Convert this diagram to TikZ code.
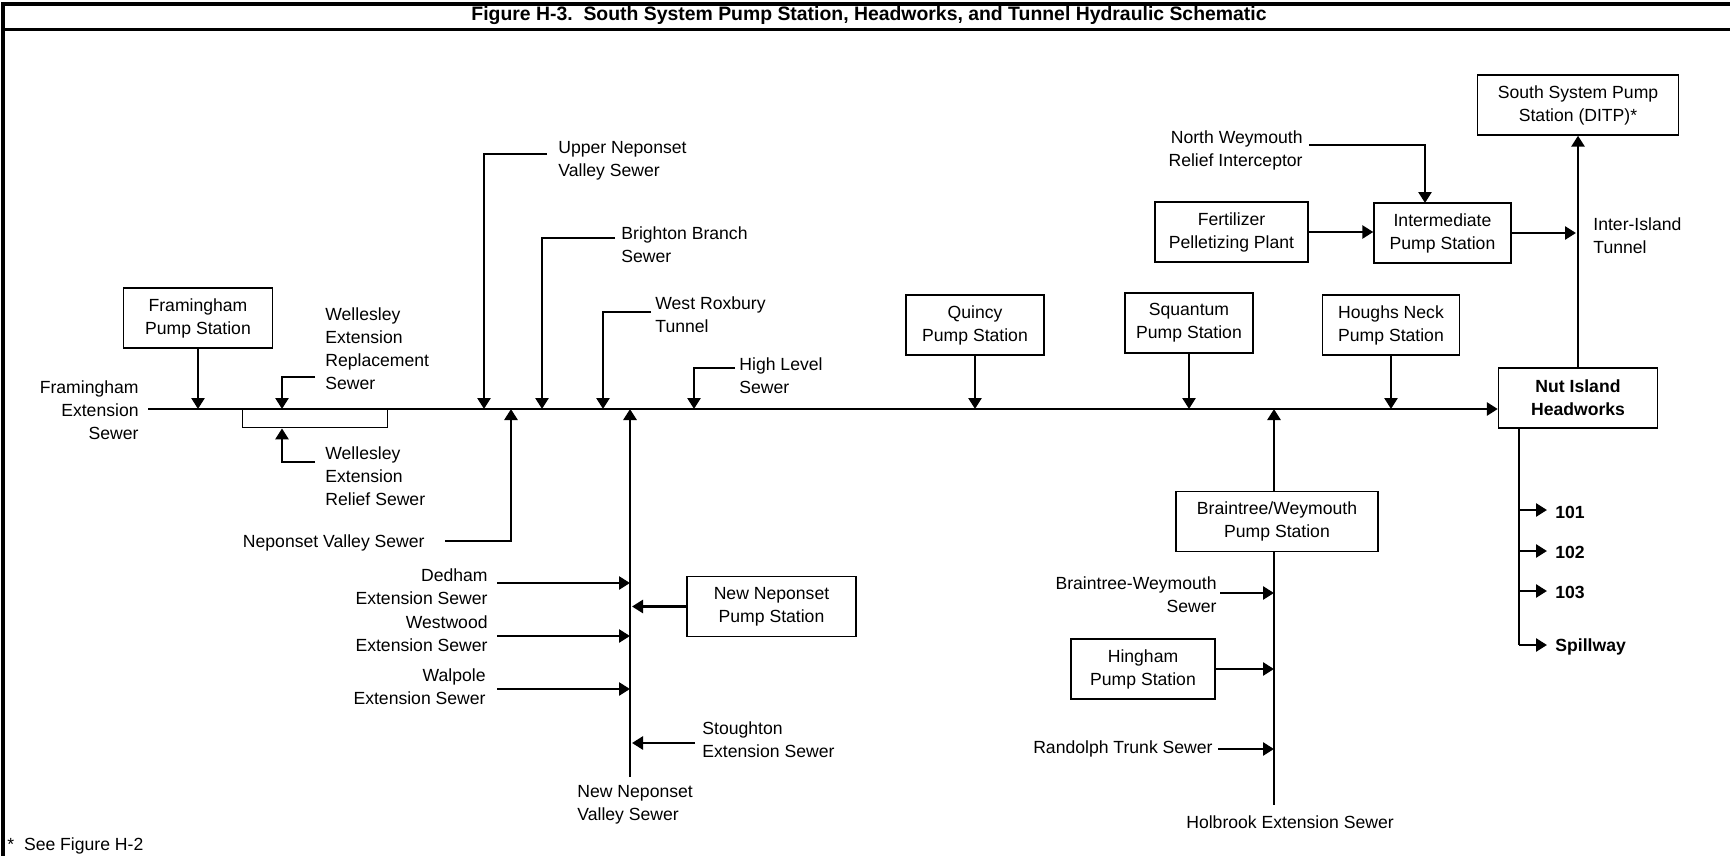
\documentclass[tikz,border=0pt]{standalone}
\usepackage{fontspec}
\setmainfont{Liberation Sans}
\usetikzlibrary{arrows.meta,positioning}

\begin{document}
\begin{tikzpicture}[x=0.5pt,y=-0.5pt,
    font=\fontsize{8.8}{11.5}\selectfont,
    stn/.style={draw,line width=0.7pt,align=center,minimum height=30pt,inner sep=0pt},
    lbl/.style={inner sep=0pt},
    arr/.style={-{Triangle[length=5.5pt,width=6.5pt]},line width=1.3pt},
    outlet/.style={line width=0.7pt}]
  \useasboundingbox (0,0) rectangle (1730,856);
  \draw[line width=1.6pt] (1730,4) -- (3,4) -- (3,856);
  \draw[line width=1.5pt] (3,30) -- (1730,30);
  \node[font=\bfseries\fontsize{9.7}{11}\selectfont] (title) at (869,16)
    {Figure H-3.\ \ South System Pump Station, Headworks, and Tunnel Hydraulic Schematic};

  % main sewer into the headworks
  \coordinate (m0) at (148,409);
  \node[stn,minimum width=79.5pt,font=\bfseries\fontsize{8.8}{11.5}\selectfont] (nut) at (1578,398) {Nut Island\\Headworks};
  \draw[arr,line width=1.4pt] (m0) -- (m0 -| nut.west);
  \node[lbl,anchor=east,align=right] (fes) at (139,410) {Framingham\\Extension\\Sewer};

  \node[stn,minimum width=74.5pt] (fram) at (198,318) {Framingham\\Pump Station};
  \draw[arr] (fram) -- (fram |- m0);

  \node[draw,line width=0.7pt,anchor=north west,minimum width=72.5pt,minimum height=9pt,inner sep=0pt] (wel) at (242,409) {};
  \coordinate (wr0) at (315,377);
  \coordinate (wr) at (282,409);
  \draw[arr] (wr0) -| (wr);
  \node[lbl,anchor=west,align=left] (wrs) at (325,349) {Wellesley\\Extension\\Replacement\\Sewer};
  \coordinate (wf0) at (315,462);
  \draw[arr] (wf0) -| (wr |- wel.south);
  \node[lbl,anchor=west,align=left] (wfs) at (325,476) {Wellesley\\Extension\\Relief Sewer};

  % sewers from above
  \coordinate (un0) at (547,154);
  \coordinate (un) at (484,409);
  \draw[arr] (un0) -| (un);
  \node[lbl,anchor=west,align=left] (uns) at (558,161) {Upper Neponset\\Valley Sewer};
  \coordinate (bb0) at (615,238);
  \coordinate (bb) at (542,409);
  \draw[arr] (bb0) -| (bb);
  \node[lbl,anchor=west,align=left] (bbs) at (621,245) {Brighton Branch\\Sewer};
  \coordinate (wx0) at (651,312);
  \coordinate (wx) at (603,409);
  \draw[arr] (wx0) -| (wx);
  \node[lbl,anchor=west,align=left] (wxt) at (655,315) {West Roxbury\\Tunnel};
  \coordinate (hl0) at (735,368);
  \coordinate (hl) at (694,409);
  \draw[arr] (hl0) -| (hl);
  \node[lbl,anchor=west,align=left] (hls) at (739,376) {High Level\\Sewer};

  \node[stn,minimum width=69pt] (quincy) at (975,325) {Quincy\\Pump Station};
  \draw[arr] (quincy) -- (quincy |- m0);
  \node[stn,minimum width=64pt] (squantum) at (1189,323) {Squantum\\Pump Station};
  \draw[arr] (squantum) -- (squantum |- m0);
  \node[stn,minimum width=68.5pt] (houghs) at (1391,325) {Houghs Neck\\Pump Station};
  \draw[arr] (houghs) -- (houghs |- m0);

  % sewers from below
  \coordinate (nv0) at (445,541);
  \coordinate (nv) at (511,409);
  \draw[arr] (nv0) -| (nv);
  \node[lbl,anchor=east] (nvs) at (425,543) {Neponset Valley Sewer};

  \coordinate (nn0) at (630,777);
  \coordinate (nn) at (630,409);
  \draw[arr,line width=1.4pt] (nn0) -- (nn);
  \node[lbl,anchor=north west,align=left] (nns) at (577,785) {New Neponset\\Valley Sewer};
  \coordinate (dd0) at (497,583);
  \draw[arr] (dd0) -- (dd0 -| nn);
  \node[lbl,anchor=east,align=right] (dds) at (488,587) {Dedham\\Extension Sewer};
  \coordinate (ww0) at (497,636);
  \draw[arr] (ww0) -- (ww0 -| nn);
  \node[lbl,anchor=east,align=right] (wws) at (488,634) {Westwood\\Extension Sewer};
  \coordinate (wp0) at (497,689);
  \draw[arr] (wp0) -- (wp0 -| nn);
  \node[lbl,anchor=east,align=right] (wps) at (486,687) {Walpole\\Extension Sewer};
  \node[stn,minimum width=84.5pt] (nnps) at (771.5,606.5) {New Neponset\\Pump Station};
  \draw[arr] (nnps) -- ([xshift=1pt]nnps -| nn);
  \coordinate (st0) at (695,743);
  \draw[arr] (st0) -- ([xshift=1pt]st0 -| nn);
  \node[lbl,anchor=west,align=left] (sts) at (702,740) {Stoughton\\Extension Sewer};

  \coordinate (bw) at (1274,409);
  \coordinate (hb) at (1274,805);
  \node[stn,minimum width=101pt] (btw) at (1277,521.5) {Braintree/Weymouth\\Pump Station};
  \draw[arr] (bw |- btw.north) -- (bw);
  \draw[outlet] (hb |- btw.south) -- (hb);
  \node[lbl] (hbs) at (1290,822) {Holbrook Extension Sewer};
  \coordinate (bws0) at (1220,593);
  \draw[arr] (bws0) -- (bws0 -| hb);
  \node[lbl,anchor=east,align=right] (bwss) at (1217,595) {Braintree-Weymouth\\Sewer};
  \node[stn,minimum width=72pt] (hing) at (1143,669) {Hingham\\Pump Station};
  \draw[arr] (hing) -- (hing -| hb);
  \coordinate (rt0) at (1218,749);
  \draw[arr] (rt0) -- (rt0 -| hb);
  \node[lbl,anchor=east] (rts) at (1213,749) {Randolph Trunk Sewer};

  % tunnel and outlets
  \node[stn,minimum width=100.5pt] (ssps) at (1578,105) {South System Pump\\Station (DITP)*};
  \draw[arr,line width=1.4pt] (nut.north) -- (nut.north |- ssps.south);
  \node[lbl,anchor=west,align=left] (iit) at (1593,236) {Inter-Island\\Tunnel};
  \node[stn,minimum width=68.5pt] (inter) at (1442.5,233) {Intermediate\\Pump Station};
  \draw[arr] (inter.east) -- ([xshift=-1pt]inter.east -| nut.north);
  \node[stn,minimum width=76.5pt] (fert) at (1231.5,232) {Fertilizer\\Pelletizing Plant};
  \draw[arr] (fert.east) -- (fert.east -| inter.west);
  \coordinate (nw0) at (1309,145);
  \coordinate (nw) at (1425,203);
  \draw[arr] (nw0) -| (nw);
  \node[lbl,anchor=east,align=right] (nws) at (1303,150) {North Weymouth\\Relief Interceptor};

  \coordinate (ho) at (1519,645);
  \draw[outlet] (ho |- nut.south) -- (ho);
  \node[lbl,anchor=west,font=\bfseries\fontsize{8.8}{11.5}\selectfont] (o101) at (1555,512) {101};
  \node[lbl,anchor=west,font=\bfseries\fontsize{8.8}{11.5}\selectfont] (o102) at (1555,552) {102};
  \node[lbl,anchor=west,font=\bfseries\fontsize{8.8}{11.5}\selectfont] (o103) at (1555,592) {103};
  \node[lbl,anchor=west,font=\bfseries\fontsize{8.8}{11.5}\selectfont] (ospill) at (1555,647) {Spillway};
  \draw[arr] (ho |- 0,510) -- (1547,510);
  \draw[arr] (ho |- 0,551) -- (1547,551);
  \draw[arr] (ho |- 0,591) -- (1547,591);
  \draw[arr] (ho) -- (1547,645);

  \node[lbl,anchor=west] (note) at (7,846) {*\ \ See Figure H-2};
\end{tikzpicture}
\end{document}
